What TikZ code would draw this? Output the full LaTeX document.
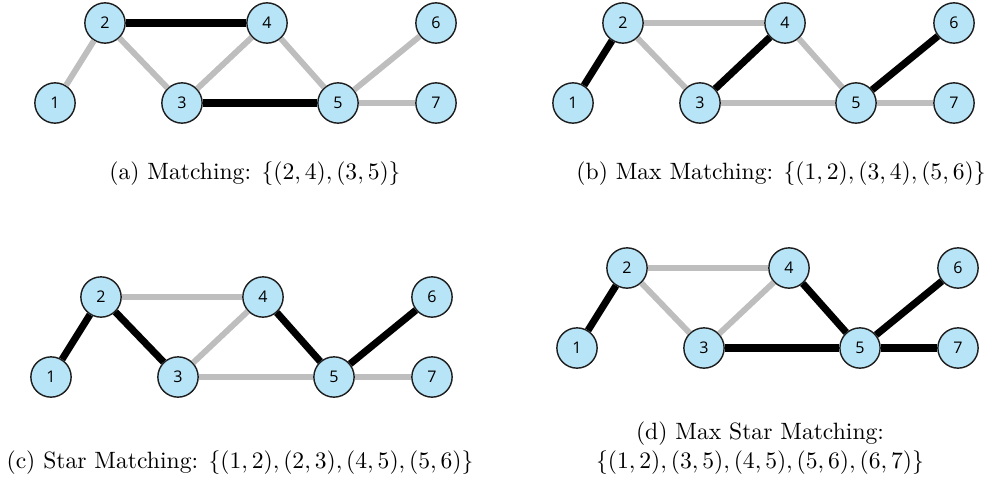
\documentclass[tikz,border=0pt]{standalone}
\usepackage{amsmath,amssymb}
\usepackage{fontspec}
\newfontfamily\vertexfont{Open Sans}
\usepackage{xcolor}
\usepackage{tikz}
\usetikzlibrary{positioning}
\definecolor{vfill}{RGB}{184,228,247}
\definecolor{vedge}{RGB}{190,190,190}
\definecolor{ink}{RGB}{30,30,30}

\begin{document}
\begin{tikzpicture}[
  x=0.01489cm,y=-0.01489cm,
  vertex/.style={circle,draw=ink,line width=0.6pt,fill=vfill,minimum size=0.6cm,inner sep=0pt,font=\vertexfont\fontsize{6.8}{7}\selectfont},
  plain/.style={draw=vedge,line width=2.5pt},
  matched/.style={draw=black,line width=3pt},
  caption/.style={align=center,font=\normalsize}
]
\useasboundingbox (0,0) rectangle (987,481);

% (a) matching
\begin{scope}[shift={(55,103)}]
\node[vertex] (a1) at (0,0) {1};
\node[vertex] (a2) at (50,-80) {2};
\node[vertex] (a3) at (127,0) {3};
\node[vertex] (a4) at (212,-80) {4};
\node[vertex] (a5) at (283,0) {5};
\node[vertex] (a6) at (381,-80) {6};
\node[vertex] (a7) at (381,0) {7};
\end{scope}
\draw[plain] (a1) -- (a2);
\draw[plain] (a2) -- (a3);
\draw[plain] (a3) -- (a4);
\draw[plain] (a4) -- (a5);
\draw[plain] (a5) -- (a6);
\draw[plain] (a5) -- (a7);
\draw[matched] (a2) -- (a4);
\draw[matched] (a3) -- (a5);
\node[caption] (capa) at (255,174) {(a) Matching: $\{(2,4),(3,5)\}$};

% (b) max matching
\begin{scope}[shift={(573,103)}]
\node[vertex] (b1) at (0,0) {1};
\node[vertex] (b2) at (50,-80) {2};
\node[vertex] (b3) at (127,0) {3};
\node[vertex] (b4) at (212,-80) {4};
\node[vertex] (b5) at (283,0) {5};
\node[vertex] (b6) at (381,-80) {6};
\node[vertex] (b7) at (381,0) {7};
\end{scope}
\draw[plain] (b2) -- (b4);
\draw[plain] (b2) -- (b3);
\draw[plain] (b3) -- (b5);
\draw[plain] (b4) -- (b5);
\draw[plain] (b5) -- (b7);
\draw[matched] (b1) -- (b2);
\draw[matched] (b3) -- (b4);
\draw[matched] (b5) -- (b6);
\node[caption] (capb) at (781,174) {(b) Max Matching: $\{(1,2),(3,4),(5,6)\}$};

% (c) star matching
\begin{scope}[shift={(51,377)}]
\node[vertex] (c1) at (0,0) {1};
\node[vertex] (c2) at (50,-80) {2};
\node[vertex] (c3) at (127,0) {3};
\node[vertex] (c4) at (212,-80) {4};
\node[vertex] (c5) at (283,0) {5};
\node[vertex] (c6) at (381,-80) {6};
\node[vertex] (c7) at (381,0) {7};
\end{scope}
\draw[plain] (c2) -- (c4);
\draw[plain] (c3) -- (c4);
\draw[plain] (c3) -- (c5);
\draw[plain] (c5) -- (c7);
\draw[matched] (c1) -- (c2);
\draw[matched] (c2) -- (c3);
\draw[matched] (c4) -- (c5);
\draw[matched] (c5) -- (c6);
\node[caption] (capc) at (240,463) {(c) Star Matching: $\{(1,2),(2,3),(4,5),(5,6)\}$};

% (d) max star matching
\begin{scope}[shift={(577,348)}]
\node[vertex] (d1) at (0,0) {1};
\node[vertex] (d2) at (50,-80) {2};
\node[vertex] (d3) at (127,0) {3};
\node[vertex] (d4) at (212,-80) {4};
\node[vertex] (d5) at (283,0) {5};
\node[vertex] (d6) at (381,-80) {6};
\node[vertex] (d7) at (381,0) {7};
\end{scope}
\draw[plain] (d2) -- (d4);
\draw[plain] (d2) -- (d3);
\draw[plain] (d3) -- (d4);
\draw[matched] (d1) -- (d2);
\draw[matched] (d3) -- (d5);
\draw[matched] (d4) -- (d5);
\draw[matched] (d5) -- (d6);
\draw[matched] (d5) -- (d7);
\node[caption] (capd) at (760,448) {(d) Max Star Matching:\\$\{(1,2),(3,5),(4,5),(5,6),(6,7)\}$};
\end{tikzpicture}
\end{document}
